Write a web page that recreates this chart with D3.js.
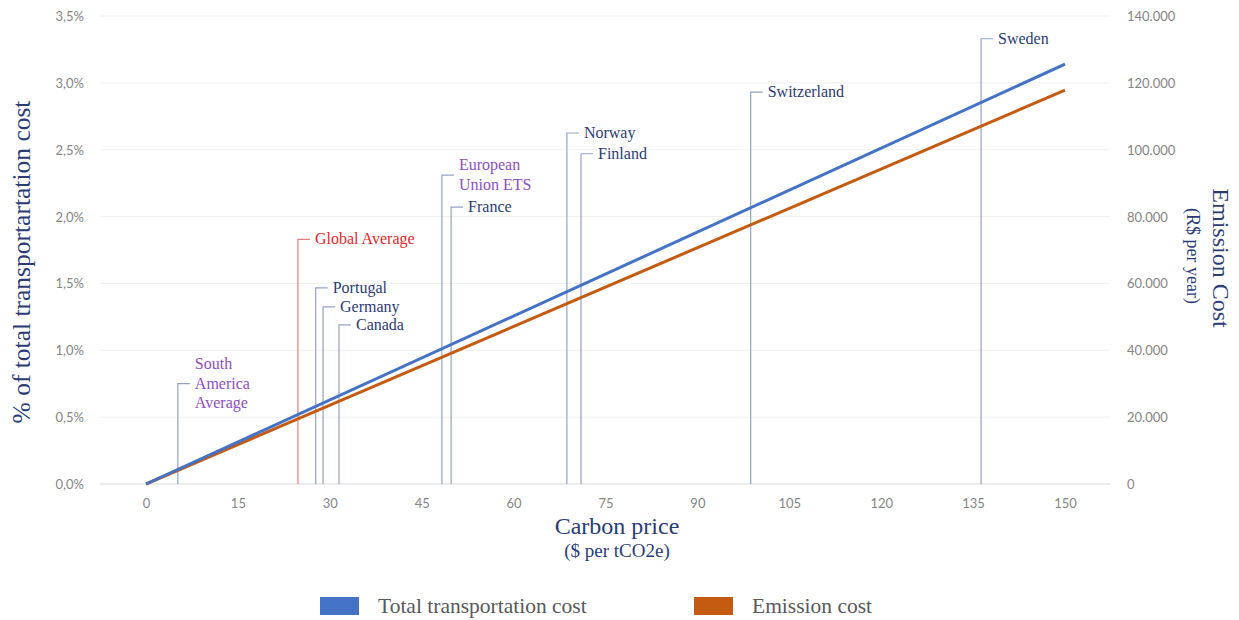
<!DOCTYPE html>
<html>
<head>
<meta charset="utf-8">
<script src="https://cdn.jsdelivr.net/npm/d3@7"></script>
<style>
  html, body { margin: 0; padding: 0; background: #fff; }
  svg { display: block; }
</style>
</head>
<body>
<svg id="chart" width="1239" height="620"></svg>
<script>
// Carbon price (x) and the two cost series
const carbonPrice = [0, 150];
const totalTransportPct = [0, 3.14];      // % of total transportation cost
const emissionCostBRL = [0, 117800];      // R$ per year

// Carbon price by jurisdiction, with the height of each callout (in % units)
const jurisdictions = ["South\nAmerica\nAverage", "Global Average", "Portugal", "Germany", "Canada",
  "European\nUnion ETS", "France", "Norway", "Finland", "Switzerland", "Sweden"];
const jurisdictionPrice = [5.2, 24.8, 27.7, 28.9, 31.5, 48.3, 49.8, 68.7, 71, 98.7, 136.3];
const calloutLevel = [0.75, 1.83, 1.466, 1.324, 1.19, 2.31, 2.07, 2.625, 2.47, 2.93, 3.33];
const jurisdictionKind = ["region", "global", "country", "country", "country",
  "region", "country", "country", "country", "country", "country"];

const xTicks = [0, 15, 30, 45, 60, 75, 90, 105, 120, 135, 150];
const leftTicks = [0, 0.5, 1, 1.5, 2, 2.5, 3, 3.5];
const rightTicks = [0, 20000, 40000, 60000, 80000, 100000, 120000, 140000];

const svg = d3.select("#chart");
const x = d3.scaleLinear().domain([0, 150]).range([146, 1065]);
const yL = d3.scaleLinear().domain([0, 3.5]).range([484, 16]);
const yR = d3.scaleLinear().domain([0, 140000]).range([484, 16]);

const serif = "'Liberation Serif', 'DejaVu Serif', serif";
const sans = "Lato, 'Open Sans', sans-serif";
const navy = "#2b3c74";
const tickGray = "#858585";

// grid
svg.append("g").selectAll("line").data(leftTicks).join("line")
  .attr("x1", 100).attr("x2", 1110)
  .attr("y1", d => yL(d)).attr("y2", d => yL(d))
  .attr("stroke", d => d === 0 ? "#d9d9d9" : "#f0f0f0")
  .attr("stroke-width", 1);

// left axis
const numFmtPct = d => d3.format(".1f")(d).replace(".", ",") + "%";
const gL = svg.append("g").attr("transform", "translate(87,0)")
  .call(d3.axisLeft(yL).tickValues(leftTicks).tickFormat(numFmtPct).tickSize(0));
gL.select(".domain").remove();
gL.selectAll("text").attr("font-family", sans).attr("font-size", 13).attr("fill", tickGray).attr("dy", "0.35em");

// right axis
const thousands = d3.formatLocale({ decimal: ",", thousands: ".", grouping: [3], currency: ["", ""] }).format(",");
const gR = svg.append("g").attr("transform", "translate(1124,0)")
  .call(d3.axisRight(yR).tickValues(rightTicks).tickFormat(d => thousands(d)).tickSize(0));
gR.select(".domain").remove();
gR.selectAll("text").attr("font-family", sans).attr("font-size", 13).attr("fill", tickGray).attr("dy", "0.35em");

// bottom axis
const gB = svg.append("g").attr("transform", "translate(0,496)")
  .call(d3.axisBottom(x).tickValues(xTicks).tickSize(0));
gB.select(".domain").remove();
gB.selectAll("text").attr("font-family", sans).attr("font-size", 13).attr("fill", tickGray);

// jurisdiction callouts
const callouts = svg.append("g");
jurisdictions.forEach((name, i) => {
  const px = x(jurisdictionPrice[i]);
  const py = yL(calloutLevel[i]);
  const kind = jurisdictionKind[i];
  const lineColor = kind === "global" ? "#ef7b7b" : "#93a3c6";
  const textColor = kind === "global" ? "#e0282a" : kind === "region" ? "#8b4fc0" : navy;
  callouts.append("path")
    .attr("d", `M${px},${yL(0)}V${py}H${px + 12}`)
    .attr("fill", "none").attr("stroke", lineColor).attr("stroke-width", 1.2);
  const lines = name.split("\n");
  const lh = 19.5;
  const t = callouts.append("text")
    .attr("x", px + 17)
    .attr("font-family", serif).attr("font-size", 16).attr("fill", textColor);
  lines.forEach((ln, k) => {
    t.append("tspan").attr("x", px + 17)
      .attr("y", py + (k - (lines.length - 1) / 2) * lh + 5)
      .text(ln);
  });
});

// series lines
const blueLine = d3.line().x((d, i) => x(carbonPrice[i])).y(d => yL(d));
const orangeLine = d3.line().x((d, i) => x(carbonPrice[i])).y(d => yR(d));
svg.append("path").attr("d", orangeLine(emissionCostBRL))
  .attr("fill", "none").attr("stroke", "#c55a11").attr("stroke-width", 3);
svg.append("path").attr("d", blueLine(totalTransportPct))
  .attr("fill", "none").attr("stroke", "#4472c4").attr("stroke-width", 3);

// axis titles
svg.append("text").attr("transform", "translate(30,262) rotate(-90)")
  .attr("text-anchor", "middle").attr("font-family", serif).attr("font-size", 25.5).attr("fill", navy)
  .text("%  of total transportartation cost");
svg.append("text").attr("x", 617).attr("y", 534)
  .attr("text-anchor", "middle").attr("font-family", serif).attr("font-size", 24).attr("fill", navy)
  .text("Carbon price");
svg.append("text").attr("x", 617).attr("y", 557)
  .attr("text-anchor", "middle").attr("font-family", serif).attr("font-size", 19).attr("fill", navy)
  .text("($ per tCO2e)");
svg.append("text").attr("transform", "translate(1213,258) rotate(90)")
  .attr("text-anchor", "middle").attr("font-family", serif).attr("font-size", 24).attr("fill", navy)
  .text("Emission Cost");
svg.append("text").attr("transform", "translate(1187,256) rotate(90)")
  .attr("text-anchor", "middle").attr("font-family", serif).attr("font-size", 18).attr("fill", navy)
  .text("(R$ per year)");

// legend
const legendItems = [
  { label: "Total transportation cost", color: "#4472c4", x: 320 },
  { label: "Emission cost", color: "#c55a11", x: 694 }
];
const lg = svg.append("g");
legendItems.forEach(it => {
  lg.append("rect").attr("x", it.x).attr("y", 597).attr("width", 39).attr("height", 18)
    .attr("fill", it.color);
  lg.append("text").attr("x", it.x + 58).attr("y", 613)
    .attr("font-family", serif).attr("font-size", 21.5).attr("fill", "#595959")
    .text(it.label);
});
</script>
</body>
</html>
